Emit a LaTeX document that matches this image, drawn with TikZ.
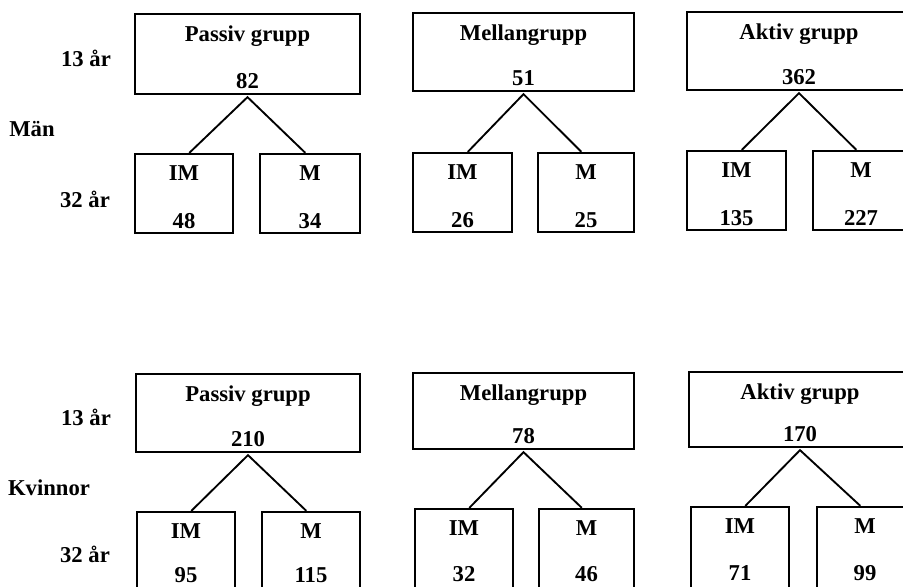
\documentclass[tikz,border=0pt]{standalone}
\usepackage{fontspec}
\setmainfont{Liberation Serif}
\begin{document}
\begin{tikzpicture}[x=0.75pt,y=-0.75pt,
  box/.style={draw,line width=1.7pt,inner sep=0pt,rectangle},
  txt/.style={inner sep=0pt,anchor=base,font=\fontsize{17}{20}\selectfont\bfseries},
  conn/.style={line width=1.4pt}]
\useasboundingbox (0,0) rectangle (903,586);
\clip (0,0) rectangle (903,586);
% side labels
\node[txt] (m13) at (86,66) {13 år};
\node[txt] (man) at (32,136) {Män};
\node[txt] (m32) at (85,207) {32 år};
\node[txt] (k13) at (86,425) {13 år};
\node[txt] (kvi) at (49,495) {Kvinnor};
\node[txt] (k32) at (85,562) {32 år};
\foreach \id/\cx/\t/\w/\h/\title/\num/\imx/\imw/\mx/\mw/\ct/\imn/\mn/\nb/\ch in {
  mp/247.5/14/225/80/Passiv grupp/82/184/98/310/100/154/48/34/74/79,
  mm/523.5/13/221/78/Mellangrupp/51/462.5/99/586/96/153/26/25/74/79,
  ma/799/12/224/78/Aktiv grupp/362/736.5/99/861/96/151/135/227/74/79,
  kp/248/374/224/78/Passiv grupp/210/186/98/311/98/512/95/115/70/90,
  km/523.5/373/221/76/Mellangrupp/78/464/98/586.5/95/509/32/46/72/90,
  ka/800/372/222/75/Aktiv grupp/170/740/98/865/96/507/71/99/73/90}
{
  \node[box,minimum width=\w*0.75pt,minimum height=\h*0.75pt] (\id) at (\cx,\t+\h/2) {};
  \node[txt] (\id-t) at (\cx,\t+27) {\title};
  \node[txt] (\id-n) at (\cx,\t+\h-6) {\num};
  \node[box,minimum width=\imw*0.75pt,minimum height=\ch*0.75pt] (\id-im) at (\imx,\ct+\ch/2) {};
  \node[box,minimum width=\mw*0.75pt,minimum height=\ch*0.75pt] (\id-m) at (\mx,\ct+\ch/2) {};
  \node[txt] (\id-imt) at (\imx,\ct+26) {IM};
  \node[txt] (\id-mt) at (\mx,\ct+26) {M};
  \node[txt] (\id-imn) at (\imx,\ct+\nb) {\imn};
  \node[txt] (\id-mn) at (\mx,\ct+\nb) {\mn};
  \coordinate (\id-apex) at ([yshift=-1.5pt]\id.south);
  \draw[conn] ([xshift=4pt]\id-im.north) -- (\id-apex) -- ([xshift=-3.5pt]\id-m.north);
}
\end{tikzpicture}
\end{document}
